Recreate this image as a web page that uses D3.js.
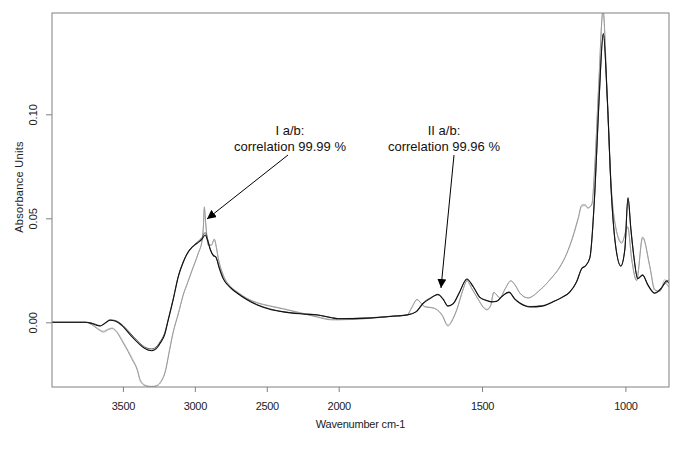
<!DOCTYPE html>
<html>
<head>
<meta charset="utf-8">
<script src="https://cdn.jsdelivr.net/npm/d3@7"></script>
<style>
  html, body { margin: 0; padding: 0; background: #fff; }
  svg { display: block; font-family: "Liberation Sans", Arial, sans-serif; }
</style>
</head>
<body>
<svg id="chart" width="685" height="449"></svg>
<script>
// ---- Data ----
const xTicks = [3500, 3000, 2500, 2000, 1500, 1000];
const yTicks = [0.00, 0.05, 0.10];

// Sample I (a and b) — wavenumber grid and absorbance
const wnI = [4000, 3760, 3720, 3680, 3657, 3625, 3590, 3550, 3500, 3449, 3400, 3350, 3300, 3260, 3241, 3210,
  3185, 3150, 3115, 3080, 3053, 3020, 2984, 2950, 2928, 2910, 2893, 2870, 2855, 2830, 2803, 2750, 2705,
  2640, 2566, 2480, 2385, 2250, 2149, 2050, 2000, 1900, 1856, 1800, 1762, 1730, 1706, 1680, 1654, 1635,
  1619, 1600, 1580, 1553, 1530, 1508, 1485, 1466, 1450, 1430, 1406, 1385, 1368, 1333, 1290, 1253, 1220,
  1194, 1170, 1152, 1140, 1124, 1107, 1092, 1077, 1063, 1049, 1037, 1016, 1002, 991, 981, 971, 957, 940,
  922, 898, 874, 856, 849];
const absIa = [0, 0, -0.0005, -0.0015, -0.0018, -0.0005, 0.001, 0.0005, -0.002, -0.006, -0.0095, -0.0125, -0.0137, -0.012, -0.010, -0.006,
  0.001, 0.011, 0.022, 0.029, 0.033, 0.036, 0.038, 0.040, 0.042, 0.039, 0.035, 0.032, 0.0315, 0.026, 0.021, 0.0165, 0.014,
  0.011, 0.0083, 0.0063, 0.005, 0.0040, 0.0035, 0.0022, 0.0017, 0.002, 0.0024, 0.003, 0.0035, 0.005, 0.009, 0.0115, 0.0135, 0.011,
  0.0078, 0.009, 0.014, 0.0208, 0.017, 0.012, 0.0105, 0.0098, 0.010, 0.0125, 0.0145, 0.011, 0.0092, 0.0074, 0.0078, 0.0098, 0.012,
  0.0145, 0.0195, 0.026, 0.027, 0.031, 0.062, 0.107, 0.139, 0.107, 0.062, 0.040, 0.027, 0.035, 0.060, 0.045, 0.032, 0.021, 0.0227,
  0.018, 0.014, 0.0165, 0.020, 0.019];
const absIb = [0, 0, -0.0003, -0.0012, -0.0016, -0.0003, 0.0012, 0.0008, -0.0015, -0.0052, -0.0088, -0.0118, -0.0128, -0.0112, -0.0093, -0.0052,
  0.0015, 0.0115, 0.0222, 0.0292, 0.0332, 0.0362, 0.0385, 0.0408, 0.0432, 0.0398, 0.0352, 0.0322, 0.0316, 0.0262, 0.0212, 0.0166, 0.0141,
  0.0112, 0.0085, 0.0065, 0.0051, 0.0041, 0.0036, 0.0023, 0.0018, 0.0021, 0.0025, 0.0031, 0.0036, 0.0052, 0.0093, 0.0118, 0.0132, 0.0108,
  0.0080, 0.0092, 0.0142, 0.0205, 0.0168, 0.0122, 0.0106, 0.0099, 0.0102, 0.0126, 0.0143, 0.0112, 0.0094, 0.0076, 0.0080, 0.0099, 0.0122,
  0.0147, 0.0197, 0.0258, 0.0272, 0.0312, 0.0615, 0.1065, 0.1385, 0.1065, 0.0615, 0.0402, 0.0272, 0.0352, 0.0595, 0.0448, 0.0322, 0.0212, 0.0228,
  0.0182, 0.0142, 0.0168, 0.0195, 0.0205];

// Sample II (a and b)
const wnII = [4000, 3760, 3720, 3680, 3636, 3600, 3574, 3540, 3498, 3465, 3435, 3400, 3380, 3345, 3300, 3262, 3230,
  3206, 3180, 3151, 3115, 3081, 3050, 3019, 2977, 2949, 2940, 2934, 2925, 2906, 2885, 2865, 2850, 2838,
  2810, 2750, 2705, 2640, 2566, 2480, 2385, 2250, 2149, 2050, 2000, 1900, 1856, 1800, 1762, 1744, 1727,
  1712, 1699, 1671, 1640, 1619, 1600, 1588, 1567, 1553, 1535, 1518, 1483, 1470, 1459, 1448, 1438, 1420,
  1400, 1385, 1368, 1340, 1298, 1260, 1229, 1205, 1184, 1165, 1152, 1140, 1131, 1117, 1107, 1093, 1078,
  1064, 1051, 1037, 1013, 992, 978, 961, 940, 915, 898, 880, 863, 849];
const absIIa = [0, 0, -0.001, -0.003, -0.0047, -0.0035, -0.003, -0.005, -0.010, -0.014, -0.018, -0.023, -0.028, -0.0305, -0.031, -0.0305, -0.028,
  -0.024, -0.015, -0.005, 0.004, 0.013, 0.019, 0.025, 0.033, 0.0396, 0.047, 0.0555, 0.048, 0.037, 0.037, 0.040, 0.036, 0.031,
  0.024, 0.017, 0.0145, 0.0115, 0.0093, 0.0078, 0.0064, 0.0042, 0.0025, 0.0012, 0.0012, 0.0018, 0.0023, 0.003, 0.0035, 0.0074, 0.011,
  0.009, 0.0074, 0.0069, 0.0035, -0.0018, 0.002, 0.006, 0.0155, 0.020, 0.016, 0.012, 0.006, 0.008, 0.0145, 0.013, 0.0117, 0.016,
  0.020, 0.018, 0.014, 0.0117, 0.0155, 0.021, 0.0266, 0.033, 0.041, 0.050, 0.0564, 0.0565, 0.055, 0.057, 0.075, 0.115, 0.150,
  0.110, 0.068, 0.048, 0.038, 0.046, 0.030, 0.020, 0.041, 0.027, 0.0155, 0.015, 0.019, 0.017];
const absIIb = [0, 0, -0.0008, -0.0026, -0.0042, -0.0031, -0.0027, -0.0046, -0.0094, -0.0134, -0.0174, -0.0225, -0.0275, -0.0302, -0.0308, -0.0302, -0.0276,
  -0.0235, -0.0146, -0.0046, 0.0043, 0.0133, 0.0193, 0.0253, 0.0332, 0.0398, 0.0465, 0.0545, 0.0478, 0.0372, 0.0372, 0.0398, 0.0358, 0.0312,
  0.0242, 0.0172, 0.0147, 0.0117, 0.0095, 0.0080, 0.0066, 0.0044, 0.0027, 0.0014, 0.0013, 0.0019, 0.0024, 0.0031, 0.0036, 0.0072, 0.0108,
  0.0092, 0.0076, 0.0070, 0.0038, -0.0012, 0.0024, 0.0062, 0.0153, 0.0198, 0.0162, 0.0122, 0.0063, 0.0082, 0.0143, 0.0131, 0.0118, 0.0158,
  0.0198, 0.0179, 0.0141, 0.0118, 0.0156, 0.0209, 0.0264, 0.0328, 0.0405, 0.0495, 0.0558, 0.0560, 0.0548, 0.0565, 0.074, 0.114, 0.150,
  0.111, 0.069, 0.0485, 0.0385, 0.0455, 0.0305, 0.0205, 0.0405, 0.0268, 0.016, 0.0148, 0.0205, 0.0185];

const annotations = [
  { lines: ["I a/b:", "correlation 99.99 %"] },
  { lines: ["II a/b:", "correlation 99.96 %"] }
];

// ---- Layout ----
const svg = d3.select("#chart");
const L = 52, R = 669, T = 13, B = 387;

// Bruker-style split axis: the region above 2000 cm-1 is compressed by half
const x = d3.scaleLinear().domain([3993, 2000, 848]).range([L, 338.7, R]);
const y = d3.scaleLinear().domain([-0.0311, 0.1487]).range([B, T]);

svg.append("defs").append("clipPath").attr("id", "clip")
  .append("rect").attr("x", L).attr("y", T).attr("width", R - L).attr("height", B - T);

const line = d3.line().x(d => x(d[0])).y(d => y(d[1])).curve(d3.curveMonotoneX);

const series = [
  { wn: wnII, v: absIIb, color: "#c2c2c2", w: 1.0 },
  { wn: wnII, v: absIIa, color: "#9a9a9a", w: 1.0 },
  { wn: wnI, v: absIb, color: "#5a5a5a", w: 1.0 },
  { wn: wnI, v: absIa, color: "#111111", w: 1.1 }
];

const g = svg.append("g").attr("clip-path", "url(#clip)");
series.forEach(s => {
  g.append("path")
    .datum(s.wn.map((w, i) => [w, s.v[i]]))
    .attr("d", line)
    .attr("fill", "none")
    .attr("stroke", s.color)
    .attr("stroke-width", s.w)
    .attr("stroke-linejoin", "round");
});

// Frame
svg.append("rect").attr("x", L).attr("y", T).attr("width", R - L).attr("height", B - T)
  .attr("fill", "none").attr("stroke", "#808080").attr("stroke-width", 1);

// X axis
const xAxis = d3.axisBottom(x).tickValues(xTicks).tickSize(5).tickPadding(10).tickFormat(d3.format("d"));
const gx = svg.append("g").attr("transform", `translate(0,${B})`).call(xAxis);
gx.select(".domain").remove();
gx.selectAll(".tick line").attr("stroke", "#808080");
gx.selectAll(".tick text").attr("fill", "#222").style("font-size", "11px")
  .style("font-family", "'Liberation Sans', Arial, sans-serif").attr("letter-spacing", "-0.3");

svg.append("text").attr("x", (L + R) / 2).attr("y", 428).attr("text-anchor", "middle")
  .style("font-size", "11px").attr("fill", "#222").attr("letter-spacing", "-0.2")
  .text("Wavenumber cm-1");

// Y axis
const yAxis = d3.axisLeft(y).tickValues(yTicks).tickSize(6).tickFormat(d3.format(".2f"));
const gy = svg.append("g").attr("transform", `translate(${L},0)`).call(yAxis);
gy.select(".domain").remove();
gy.selectAll(".tick line").attr("stroke", "#808080");
gy.selectAll(".tick text")
  .attr("x", null).attr("dy", null)
  .attr("text-anchor", "middle")
  .attr("transform", "translate(-15,0) rotate(-90)")
  .attr("fill", "#222").style("font-size", "11px")
  .style("font-family", "'Liberation Sans', Arial, sans-serif");

svg.append("text").attr("transform", "translate(22.5,187) rotate(-90)").attr("text-anchor", "middle")
  .style("font-size", "11px").attr("fill", "#222").attr("letter-spacing", "0.3")
  .text("Absorbance Units");

// Annotations
const ann = [
  { cx: 290, y0: 135, from: [288, 155], to: [207, 219] },
  { cx: 444, y0: 135, from: [454, 155], to: [441, 288] }
];
svg.append("defs").append("marker").attr("id", "arrow")
  .attr("viewBox", "0 0 10 10").attr("refX", 10).attr("refY", 5)
  .attr("markerWidth", 9).attr("markerHeight", 9).attr("markerUnits", "userSpaceOnUse")
  .attr("orient", "auto")
  .append("path").attr("d", "M0,0 L10,5 L0,10 z").attr("fill", "#000");

ann.forEach((a, i) => {
  annotations[i].lines.forEach((t, j) => {
    svg.append("text").attr("x", a.cx).attr("y", a.y0 + j * 15.5).attr("text-anchor", "middle")
      .style("font-size", "13px").attr("fill", "#111").text(t);
  });
  svg.append("line").attr("x1", a.from[0]).attr("y1", a.from[1]).attr("x2", a.to[0]).attr("y2", a.to[1])
    .attr("stroke", "#000").attr("stroke-width", 1).attr("marker-end", "url(#arrow)");
});
</script>
</body>
</html>
